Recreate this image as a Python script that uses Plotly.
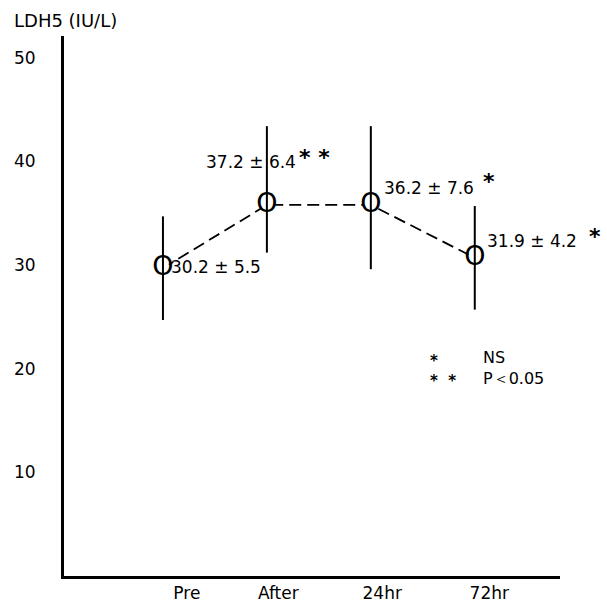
import plotly.graph_objects as go

# Data
categories = ["Pre", "After", "24hr", "72hr"]
x_pos = [1, 2, 3, 4]
means_plotted = [29.7, 35.8, 35.8, 30.7]
err_plus = [5.0, 7.6, 7.6, 5.0]
err_minus = [5.0, 4.6, 6.2, 5.0]
value_labels = ["30.2 ± 5.5", "37.2 ± 6.4", "36.2 ± 7.6", "31.9 ± 4.2"]
stars = ["", "* *", "*", "*"]
key_stars = ["*", "*&nbsp;&nbsp;*"]
key_texts = ["NS", "P＜0.05"]
y_ticks = [10, 20, 30, 40, 50]
x_tick_pos = [1.23, 2.11, 3.11, 4.14]

FONT = "DejaVu Sans, Liberation Sans, sans-serif"

fig = go.Figure()

# dashed connecting line
fig.add_trace(go.Scatter(
    x=x_pos, y=means_plotted, mode="lines",
    line=dict(color="black", width=1.8, dash="12px,6px"),
    hoverinfo="skip", showlegend=False))
# white fill under the 'O' markers
fig.add_trace(go.Scatter(
    x=x_pos, y=means_plotted, mode="markers",
    marker=dict(color="white", size=14, line=dict(width=0)),
    hoverinfo="skip", showlegend=False))
# error bars
fig.add_trace(go.Scatter(
    x=x_pos, y=means_plotted, mode="markers",
    marker=dict(size=1, color="rgba(0,0,0,0)"),
    error_y=dict(type="data", symmetric=False, array=err_plus, arrayminus=err_minus,
                 color="black", thickness=2, width=0),
    hoverinfo="skip", showlegend=False))
# 'O' glyph markers
fig.add_trace(go.Scatter(
    x=x_pos, y=means_plotted, mode="text", text=["O"] * 4,
    textposition="middle center",
    textfont=dict(family=FONT, size=27, color="black"),
    hoverinfo="skip", showlegend=False))

# value labels
label_anchor = ["left", "right", "left", "left"]
label_xshift = [6, 31, 11, 10]
label_yshift = [1, 43, 17, 17]
star_xshift = [0, 48, 118, 120]
star_yshift = [0, 47, 23, 21]
for i in range(4):
    fig.add_annotation(x=x_pos[i], y=means_plotted[i], xref="x", yref="y",
                       text=value_labels[i], showarrow=False,
                       xanchor=label_anchor[i], yanchor="middle",
                       xshift=label_xshift[i], yshift=label_yshift[i],
                       font=dict(family=FONT, size=17, color="black"))
    if stars[i]:
        fig.add_annotation(x=x_pos[i], y=means_plotted[i], xref="x", yref="y",
                           text="<b>" + stars[i] + "</b>", showarrow=False,
                           xanchor="center", yanchor="middle",
                           xshift=star_xshift[i], yshift=star_yshift[i],
                           font=dict(family=FONT, size=22, color="black"))

# significance key
fig.add_annotation(x=3.55, y=19.76, xref="x", yref="y",
                   text="<br>".join("<b>" + s + "</b>" for s in key_stars),
                   showarrow=False, xanchor="left", yanchor="middle", align="left",
                   font=dict(family=FONT, size=15, color="black"))
fig.add_annotation(x=4.06, y=20.1, xref="x", yref="y",
                   text="<br>".join(key_texts),
                   showarrow=False, xanchor="left", yanchor="middle", align="left",
                   font=dict(family=FONT, size=16, color="black"))

# axis title
fig.add_annotation(x=-0.105, y=1.029, xref="paper", yref="paper", text="LDH5 (IU/L)",
                   showarrow=False, xanchor="left", yanchor="middle",
                   font=dict(family=FONT, size=18, color="black"))

fig.update_layout(
    width=607, height=605,
    margin=dict(l=64, r=47, t=36, b=29),
    paper_bgcolor="white", plot_bgcolor="white",
    font=dict(family=FONT, size=17, color="black"),
    xaxis=dict(range=[0.048, 4.82], showgrid=False, zeroline=False, automargin=False,
               showline=True, linecolor="black", linewidth=3,
               tickvals=x_tick_pos, ticktext=categories, ticks="",
               tickfont=dict(family=FONT, size=17, color="black")),
    yaxis=dict(range=[0, 52.1], showgrid=False, zeroline=False, automargin=False,
               showline=True, linecolor="black", linewidth=3,
               tickvals=y_ticks, ticktext=[str(v) for v in y_ticks], ticks="",
               ticklabelstandoff=22,
               tickfont=dict(family=FONT, size=17, color="black")),
)

fig.write_html("out.html")
